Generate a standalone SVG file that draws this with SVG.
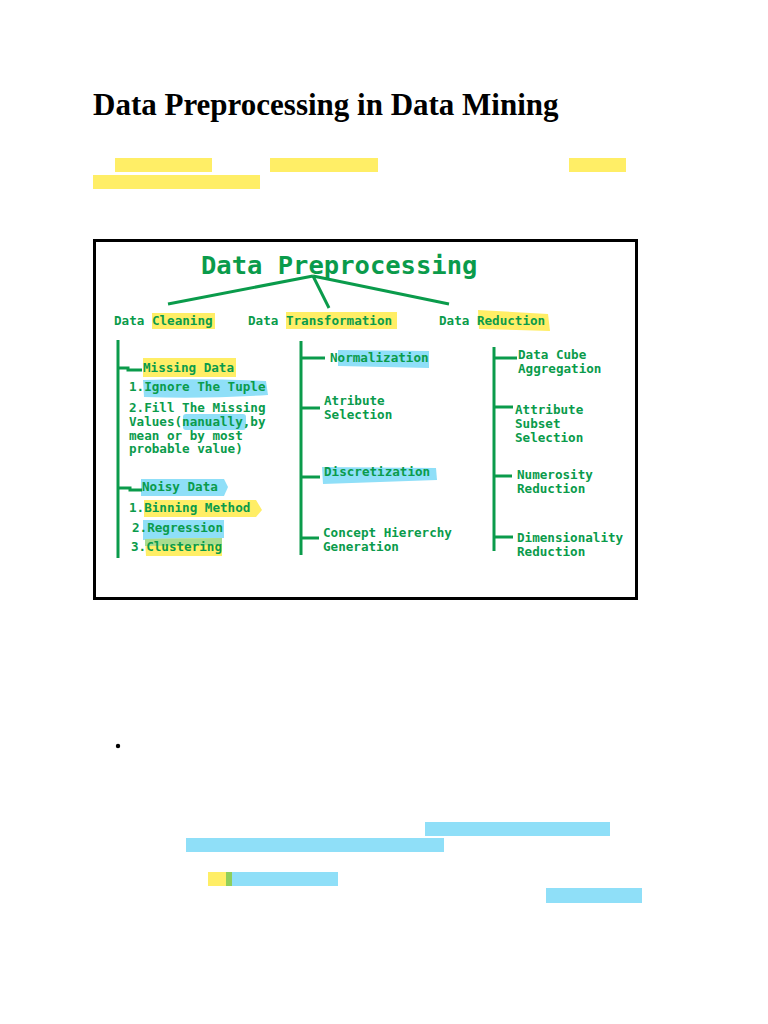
<svg xmlns="http://www.w3.org/2000/svg" width="768" height="1024" viewBox="0 0 768 1024">
<style>
.t{font-family:"DejaVu Sans Mono","Liberation Mono",monospace;font-weight:bold;fill:#0a9b4b;font-size:12.6px}
.ln{stroke:#0a9b4b;stroke-width:3;fill:none;stroke-linecap:butt}
.y{fill:#ffee66}
.b{fill:#8fdff8}
</style>
<rect width="768" height="1024" fill="#ffffff"/>
<text x="93" y="115" font-family="Liberation Serif,serif" font-weight="bold" font-size="31" fill="#000">Data Preprocessing in Data Mining</text>
<g id="page-highlights">
<rect class="y" x="115" y="158" width="97" height="14"/>
<rect class="y" x="270" y="158" width="108" height="14"/>
<rect class="y" x="569" y="158" width="57" height="14"/>
<rect class="y" x="93" y="175" width="167" height="14"/>
<rect class="b" x="425" y="822" width="185" height="14"/>
<rect class="b" x="186" y="838" width="258" height="14"/>
<rect class="y" x="208" y="872" width="18" height="14"/>
<rect fill="#8fcf5a" x="226" y="872" width="6" height="14"/>
<rect class="b" x="232" y="872" width="106" height="14"/>
<rect class="b" x="546" y="888" width="96" height="15"/>
</g>
<circle cx="118" cy="746" r="2.2" fill="#000"/>
<rect x="94.5" y="240.5" width="542" height="358" fill="#fff" stroke="#000" stroke-width="3"/>
<g id="diagram-highlights">
<rect class="y" x="152" y="313" width="63" height="16"/>
<rect class="y" x="286" y="312" width="111" height="17"/>
<path class="y" d="M478 310 L548 314 L550 331 L479 329 Z"/>
<path class="y" d="M143 358 L236 358 L236 377 L143 377 Z"/>
<path class="b" d="M143 380 Q200 378 266 381 L268 395 Q205 399 144 397 Z"/>
<rect class="b" x="183" y="414" width="63" height="16" rx="3"/>
<path class="b" d="M141 479 L224 479 L228 487 L224 496 L141 496 Z"/>
<path class="y" d="M144 500 L256 500 L262 510 L256 517 L144 517 Z"/>
<path class="b" d="M143 520 L224 520 L224 538 L143 540 Z"/>
<path class="y" d="M145 539 L222 538 L222 556 L146 556 Z"/>
<path fill="#a8dc8e" d="M145 539 L222 538 L222 545 L145 546 Z"/>
<path class="b" d="M338 350 L429 351 L429 368 L338 366 Z"/>
<path class="b" d="M322 467 L436 468 L437 480 L323 484 Z"/>
</g>
<g id="title"><text x="201" y="274" class="t" style="font-size:25.5px">Data Preprocessing</text></g>
<g id="connectors">
<line class="ln" x1="313" y1="276" x2="168" y2="304"/>
<line class="ln" x1="313" y1="276" x2="329" y2="308"/>
<line class="ln" x1="313" y1="276" x2="449" y2="304"/>
<line class="ln" x1="118" y1="340" x2="118" y2="558"/>
<polyline class="ln" points="118,368 128,368 128,370 142,370"/>
<polyline class="ln" points="118,488 130,488 130,490 142,490"/>
<line class="ln" x1="301" y1="341" x2="301" y2="555"/>
<line class="ln" x1="301" y1="358" x2="325" y2="358"/>
<line class="ln" x1="301" y1="408" x2="320" y2="408"/>
<line class="ln" x1="301" y1="477" x2="320" y2="477"/>
<line class="ln" x1="301" y1="538" x2="319" y2="538"/>
<line class="ln" x1="494" y1="347" x2="494" y2="551"/>
<line class="ln" x1="494" y1="358" x2="517" y2="358"/>
<line class="ln" x1="494" y1="407" x2="513" y2="407"/>
<line class="ln" x1="494" y1="476" x2="512" y2="476"/>
<line class="ln" x1="494" y1="537" x2="513" y2="537"/>
</g>
<g id="cleaning"><text x="114" y="325" class="t">Data Cleaning</text></g>
<g id="transformation"><text x="248" y="325" class="t">Data Transformation</text></g>
<g id="reduction"><text x="439" y="325" class="t">Data Reduction</text></g>
<g id="missing">
<text x="143" y="372" class="t">Missing Data</text>
<text x="129" y="391" class="t">1.Ignore The Tuple</text>
<text x="129" y="412" class="t">2.Fill The Missing</text>
<text x="129" y="426" class="t">Values(nanually,by</text>
<text x="129" y="440" class="t">mean or by most</text>
<text x="129" y="453" class="t">probable value)</text>
</g>
<g id="noisy">
<text x="142" y="491" class="t">Noisy Data</text>
<text x="129" y="512" class="t">1.Binning Method</text>
<text x="132" y="532" class="t">2.Regression</text>
<text x="131" y="551" class="t">3.Clustering</text>
</g>
<g id="normalization"><text x="330" y="362" class="t">Normalization</text></g>
<g id="atribute"><text x="324" y="405" class="t">Atribute</text><text x="324" y="419" class="t">Selection</text></g>
<g id="discretization"><text x="324" y="476" class="t">Discretization</text></g>
<g id="concept"><text x="323" y="537" class="t">Concept Hiererchy</text><text x="323" y="551" class="t">Generation</text></g>
<g id="cube"><text x="518" y="359" class="t">Data Cube</text><text x="518" y="373" class="t">Aggregation</text></g>
<g id="subset"><text x="515" y="414" class="t">Attribute</text><text x="515" y="428" class="t">Subset</text><text x="515" y="442" class="t">Selection</text></g>
<g id="numerosity"><text x="517" y="479" class="t">Numerosity</text><text x="517" y="493" class="t">Reduction</text></g>
<g id="dimensionality"><text x="517" y="542" class="t">Dimensionality</text><text x="517" y="556" class="t">Reduction</text></g>
</svg>
